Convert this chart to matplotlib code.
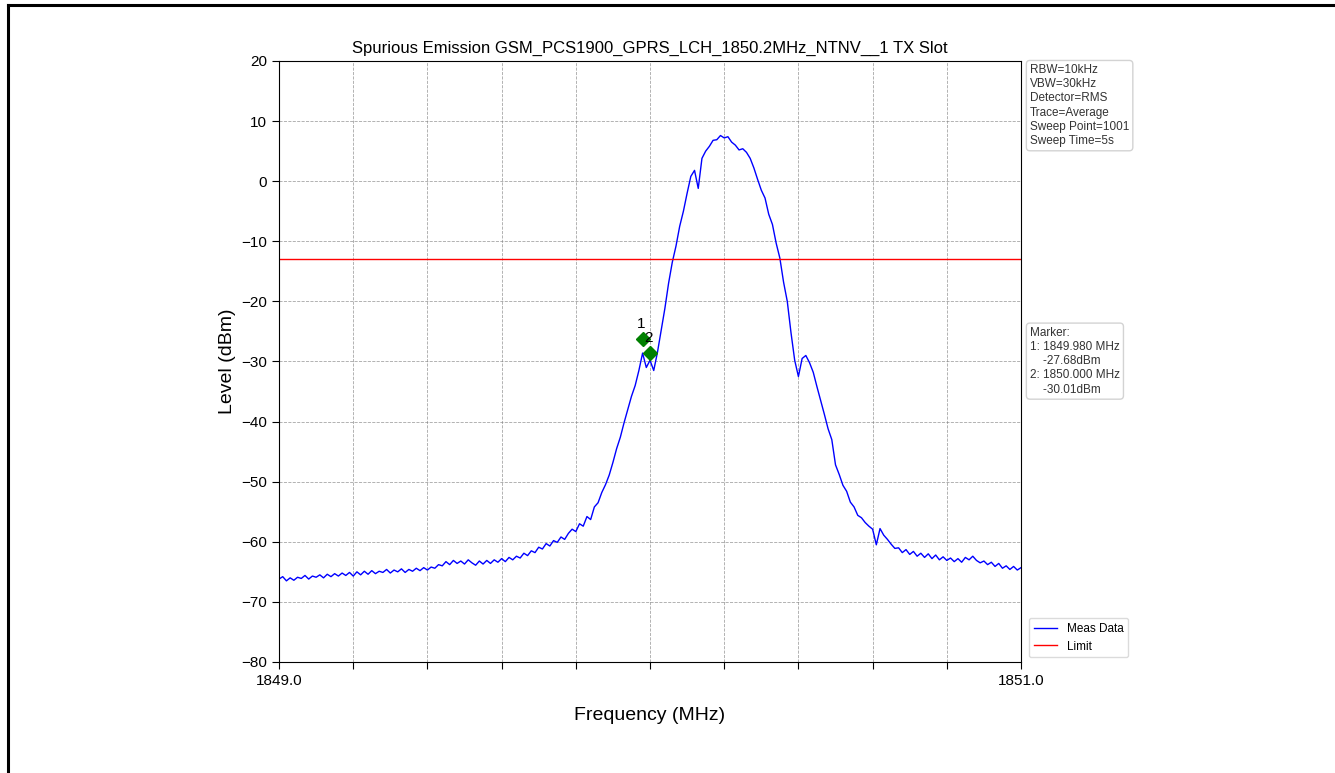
import numpy as np
import matplotlib
matplotlib.use("Agg")
import matplotlib.pyplot as plt
from matplotlib.lines import Line2D
import matplotlib.transforms as mtransforms

plt.rcParams['font.family'] = ['Liberation Sans', 'DejaVu Sans']

freq_start = 1849.0
freq_step = 0.01
level_dbm = [
    -66.2, -65.8, -66.5, -66.0, -66.4, -65.9, -66.1, -65.6, -66.2, -65.7,
    -65.9, -65.5, -66.0, -65.4, -65.8, -65.3, -65.7, -65.2, -65.6, -65.1,
    -65.7, -65.0, -65.5, -64.9, -65.4, -64.8, -65.3, -64.9, -65.1, -64.6,
    -65.2, -64.7, -65.0, -64.5, -65.1, -64.6, -64.9, -64.4, -64.8, -64.3,
    -64.7, -64.2, -64.4, -63.8, -64.0, -63.3, -63.8, -63.1, -63.6, -63.2,
    -63.7, -63.0, -63.5, -63.9, -63.2, -63.7, -63.1, -63.6, -63.0, -63.4,
    -62.8, -63.3, -62.6, -63.0, -62.4, -62.7, -61.9, -62.3, -61.5, -61.8,
    -60.9, -61.2, -60.3, -60.7, -59.8, -60.1, -59.2, -59.6, -58.6, -57.9,
    -58.3, -57.0, -57.4, -55.8, -56.3, -54.2, -53.5, -51.8, -50.5, -48.9,
    -46.8, -44.5, -42.6, -40.2, -38.0, -35.8, -34.0, -31.5, -28.6, -31.0,
    -29.8, -31.5, -28.5, -24.8, -21.2, -17.0, -13.5, -10.8, -7.5, -5.0,
    -2.0, 0.8, 1.8, -1.2, 3.8, 5.0, 5.8, 6.8, 6.9, 7.6,
    7.2, 7.4, 6.5, 6.0, 5.2, 5.4, 4.8, 3.8, 2.2, 0.3,
    -1.5, -2.8, -5.5, -7.2, -10.3, -12.8, -16.8, -20.0, -25.2, -29.8,
    -32.5, -29.5, -29.0, -30.2, -31.8, -34.2, -36.5, -38.8, -41.2, -43.0,
    -47.2, -48.8, -50.6, -51.6, -53.4, -54.2, -55.6, -56.0, -56.8, -57.4,
    -57.9, -60.5, -57.8, -58.9, -59.6, -60.4, -61.1, -61.0, -61.8, -61.3,
    -62.1, -61.6, -62.4, -61.9, -62.6, -62.0, -62.8, -62.2, -63.0, -62.5,
    -63.1, -62.7, -63.3, -62.8, -63.4, -62.6, -63.0, -62.4, -63.1, -63.5,
    -63.2, -63.8, -63.4, -64.1, -63.6, -64.4, -64.0, -64.6, -64.1, -64.7,
    -64.3,
]
limit_dbm = -13.0

marker_ids = ["1", "2"]
marker_freq = [1849.980, 1850.000]
marker_level = [-27.68, -30.01]

settings_text = ["RBW=10kHz", "VBW=30kHz", "Detector=RMS", "Trace=Average",
                 "Sweep Point=1001", "Sweep Time=5s"]

title = "Spurious Emission GSM_PCS1900_GPRS_LCH_1850.2MHz_NTNV__1 TX Slot"

freq = freq_start + freq_step * np.arange(len(level_dbm))

fig = plt.figure(figsize=(13.35, 7.73), dpi=100)
ax = fig.add_axes([0.209, 0.1436, 0.5558, 0.7775])

ax.plot(freq, level_dbm, color="blue", linewidth=1.0, label="Meas Data")
ax.axhline(limit_dbm, color="red", linewidth=1.0, label="Limit")

# markers sit a little above the read-out level, as in the analyser plot
lift = mtransforms.offset_copy(ax.transData, fig=fig, x=0, y=6, units="points")
ax.plot(marker_freq, marker_level, linestyle="none", marker="D", markersize=7,
        color="green", transform=lift)
for mid, mf, ml in zip(marker_ids, marker_freq, marker_level):
    ax.annotate(mid, (mf, ml), xytext=(-1, 14), textcoords="offset points",
                fontsize=11, ha="center")

ax.set_xlim(1849.0, 1851.0)
ax.set_ylim(-80, 20)
xt = np.linspace(1849.0, 1851.0, 11)
ax.set_xticks(xt)
ax.set_xticklabels(["1849.0"] + [""] * 9 + ["1851.0"])
ax.set_yticks(np.arange(-80, 21, 10))
ax.tick_params(labelsize=11, direction="out", length=5)
ax.grid(True, linestyle="--", color="gray", linewidth=0.6, alpha=0.7)

ax.set_title(title, fontsize=12)
ax.set_xlabel("Frequency (MHz)", fontsize=14, labelpad=14)
ax.set_ylabel("Level (dBm)", fontsize=14)

box = dict(boxstyle="round,pad=0.3", fc="white", ec="lightgray")
ax.text(1.012, 0.995, "\n".join(settings_text), transform=ax.transAxes,
        fontsize=8.5, va="top", ha="left", bbox=box, color="#333333",
        linespacing=1.25)

marker_lines = ["Marker:"]
for mid, mf, ml in zip(marker_ids, marker_freq, marker_level):
    marker_lines.append(f"{mid}: {mf:.3f} MHz")
    marker_lines.append(f"    {ml:.2f}dBm")
ax.text(1.012, 0.558, "\n".join(marker_lines), transform=ax.transAxes,
        fontsize=8.5, va="top", ha="left", bbox=box, color="#333333",
        linespacing=1.25)

ax.legend(loc="lower left", bbox_to_anchor=(1.003, -0.002), fontsize=8.5,
          frameon=True, edgecolor="lightgray", fancybox=True)

# outer frame of the screenshot (left and top edges only)
fig.add_artist(Line2D([8 / 1335, 8 / 1335], [0, 1 - 5 / 773], color="black",
                      linewidth=2.2, transform=fig.transFigure))
fig.add_artist(Line2D([8 / 1335, 1], [1 - 5 / 773, 1 - 5 / 773], color="black",
                      linewidth=2.2, transform=fig.transFigure))

fig.savefig("out.png", dpi=100)
